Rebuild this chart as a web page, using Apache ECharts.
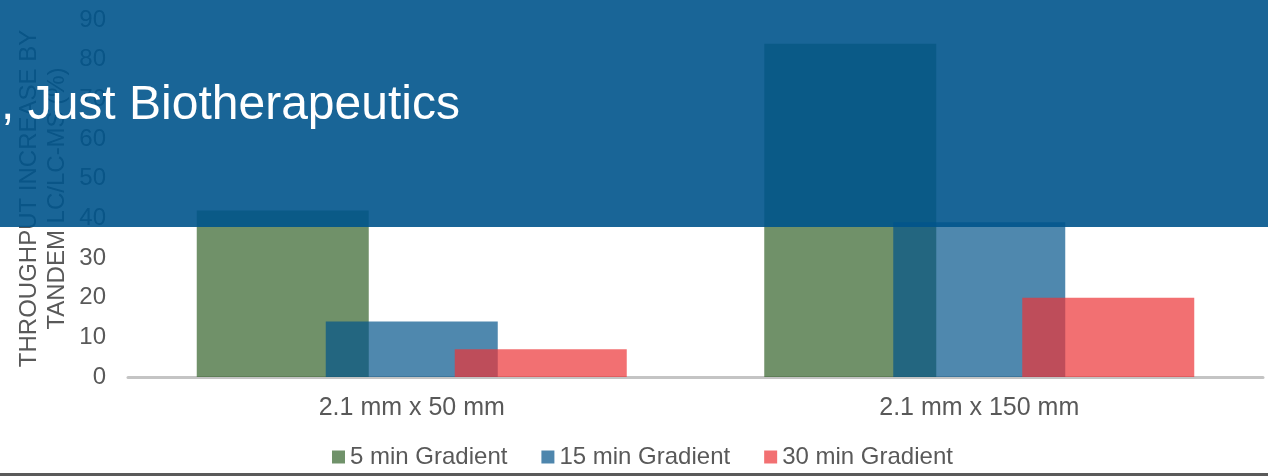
<!DOCTYPE html>
<html>
<head>
<meta charset="utf-8">
<script src="https://cdn.jsdelivr.net/npm/echarts@6/dist/echarts.min.js"></script>
<style>
  html, body { margin: 0; padding: 0; background: #ffffff; }
  #chart { width: 1268px; height: 476px; }
</style>
</head>
<body>
<div id="chart"></div>
<script>
const categories = ['2.1 mm x 50 mm', '2.1 mm x 150 mm'];
const seriesNames = ['5 min Gradient', '15 min Gradient', '30 min Gradient'];
const values5min = [42, 84];
const values15min = [14, 39];
const values30min = [7, 20];
const yTicks = { min: 0, max: 90, interval: 10 };
const yAxisTitle = 'THROUGHPUT INCREASE BY\nTANDEM LC/LC-MS (%)';
const bannerText = ', Just Biotherapeutics';

const FONT = '"Liberation Sans", Arial, sans-serif';
const TXT = '#595959';
const colors = ['rgba(51,99,42,0.7)', 'rgba(0,82,138,0.69)', 'rgba(236,51,54,0.7)'];
const legendColors = ['#70926a', '#4e86ad', '#f27072'];

const chart = echarts.init(document.getElementById('chart'), null, { renderer: 'canvas' });
const dataSets = [values5min, values15min, values30min];

chart.setOption({
  animation: false,
  textStyle: { fontFamily: FONT },
  grid: { left: 128, right: 5, top: 20, bottom: 99, containLabel: false },
  xAxis: {
    type: 'category',
    data: categories,
    axisLine: { show: true, lineStyle: { color: '#c4c4c4', width: 3 } },
    axisTick: { show: false },
    axisLabel: { color: TXT, fontSize: 25, fontFamily: FONT, margin: 19 },
    splitLine: { show: false }
  },
  yAxis: {
    type: 'value',
    min: yTicks.min, max: yTicks.max, interval: yTicks.interval,
    axisLine: { show: false },
    axisTick: { show: false },
    splitLine: { show: false },
    axisLabel: { color: TXT, fontSize: 24, fontFamily: FONT, margin: 22 },
    name: yAxisTitle,
    nameLocation: 'middle',
    nameRotate: 90,
    nameGap: 57,
    nameMoveOverlap: false,
    nameTextStyle: { color: TXT, fontSize: 24, fontFamily: FONT, lineHeight: 28, align: 'center' }
  },
  legend: {
    left: 327, top: 440,
    itemWidth: 13, itemHeight: 13, itemGap: 34,
    icon: 'rect',
    textStyle: { color: TXT, fontSize: 24, fontFamily: FONT },
    data: seriesNames.map((n, i) => ({ name: n, itemStyle: { color: legendColors[i], opacity: 1 } }))
  },
  series: seriesNames.map((n, i) => ({
    name: n,
    type: 'bar',
    data: dataSets[i],
    barWidth: 172,
    barGap: '-25%',
    itemStyle: { color: colors[i] }
  })),
  graphic: [
    {
      type: 'rect', z: 100, silent: true,
      shape: { x: 0, y: 0, width: 1268, height: 227 },
      style: { fill: 'rgba(0,84,140,0.9)' }
    },
    {
      type: 'text', z: 101, silent: true,
      x: 1, y: 106,
      style: { text: bannerText, fill: '#ffffff', font: '48px ' + FONT, textVerticalAlign: 'middle', verticalAlign: 'middle' }
    },
    {
      type: 'rect', z: 100, silent: true,
      shape: { x: 0, y: 473, width: 1268, height: 3 },
      style: { fill: '#5a5a5a' }
    }
  ]
});
</script>
</body>
</html>
